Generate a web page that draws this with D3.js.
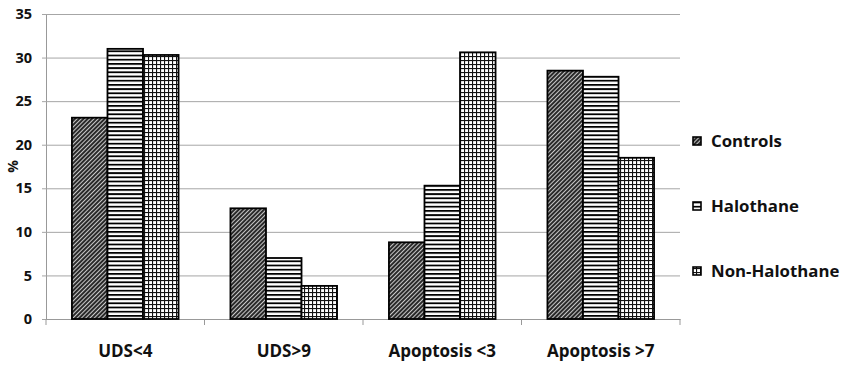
<!DOCTYPE html>
<html><head><meta charset="utf-8">
<script src="https://cdn.jsdelivr.net/npm/d3@7"></script>
<style>body{margin:0;background:#fff}svg{display:block}text{font-family:"Open Sans",Lato,sans-serif;font-weight:bold;fill:#111}</style>
</head><body>
<svg id="c" width="849" height="367"></svg>
<script>
const categories = ["UDS<4","UDS>9","Apoptosis <3","Apoptosis >7"];
const seriesNames = ["Controls","Halothane","Non-Halothane"];
const controls = [23.1, 12.7, 8.8, 28.5];
const halothane = [31.0, 7.0, 15.3, 27.8];
const nonHalothane = [30.3, 3.8, 30.6, 18.5];
const yTicks = [0,5,10,15,20,25,30,35];
const seriesValues = [controls, halothane, nonHalothane];

const svg = d3.select("#c");
const m = {l:46, r:169, t:14, b:48};
const W = 849, H = 367;
const x = d3.scaleBand().domain(categories).range([m.l, W - m.r]).paddingInner(0).paddingOuter(0);
const xi = d3.scaleBand().domain(seriesNames).range([0, x.bandwidth()]).paddingInner(0).paddingOuter(0.73);
const y = d3.scaleLinear().domain([0,35]).range([H - m.b, m.t]);

const defs = svg.append("defs");
const p1 = defs.append("pattern").attr("id","pDiag").attr("patternUnits","userSpaceOnUse")
  .attr("width",3).attr("height",3).attr("patternTransform","rotate(45)");
p1.append("rect").attr("width",3).attr("height",3).attr("fill","#2a2a2a");
p1.append("rect").attr("width",1).attr("height",3).attr("fill","#c8c8c8");
const p2 = defs.append("pattern").attr("id","pHor").attr("patternUnits","userSpaceOnUse")
  .attr("width",4).attr("height",4.2);
p2.append("rect").attr("width",4).attr("height",4.2).attr("fill","#fff");
p2.append("rect").attr("width",4).attr("height",1.8).attr("fill","#000");
const p3 = defs.append("pattern").attr("id","pGrid").attr("patternUnits","userSpaceOnUse")
  .attr("width",4).attr("height",4);
p3.append("rect").attr("width",4).attr("height",4).attr("fill","#fff");
p3.append("rect").attr("width",1.1).attr("height",4).attr("fill","#111");
p3.append("rect").attr("width",4).attr("height",1.1).attr("fill","#111");
const fills = ["url(#pDiag)","url(#pHor)","url(#pGrid)"];

const ya = svg.append("g").attr("transform",`translate(${m.l},0)`)
  .call(d3.axisLeft(y).tickValues(yTicks).tickSize(-(W-m.r-m.l)).tickSizeOuter(0).tickPadding(14));
ya.select(".domain").attr("stroke","#999");
ya.selectAll(".tick line").attr("stroke","#a6a6a6").attr("x1",-4);
ya.selectAll(".tick text").attr("font-size",14.5).attr("fill","#111");

const xa = svg.append("g").attr("transform",`translate(0,${y(0)})`)
  .call(d3.axisBottom(x).tickSize(0).tickPadding(26));
xa.select(".domain").attr("stroke","#999");
xa.selectAll(".tick text").attr("font-size",17).attr("fill","#111");
const bounds = categories.map(c => x(c)).concat([x(categories[categories.length-1]) + x.bandwidth()]);
svg.append("g").selectAll("line").data(bounds).join("line")
  .attr("x1",d=>d).attr("x2",d=>d).attr("y1",y(0)).attr("y2",y(0)+6).attr("stroke","#999");

const g = svg.append("g");
seriesValues.forEach((vals, si) => {
  g.selectAll(null).data(vals).join("rect")
    .attr("x",(d,i)=>x(categories[i]) + xi(seriesNames[si]))
    .attr("y",d=>y(d))
    .attr("width",xi.bandwidth())
    .attr("height",d=>y(0)-y(d))
    .attr("fill",fills[si]).attr("stroke","#000").attr("stroke-width",1.8);
});

svg.append("text").attr("transform",`translate(18,${(y(0)+y(35))/2}) rotate(-90)`)
  .attr("text-anchor","middle").attr("font-size",14).text("%");

const ly = [141, 206, 271];
const lg = svg.append("g");
seriesNames.forEach((n,i)=>{
  lg.append("rect").attr("x",693).attr("y",ly[i]-4).attr("width",8).attr("height",8)
    .attr("fill",fills[i]).attr("stroke","#000").attr("stroke-width",1.6);
  lg.append("text").attr("x",711).attr("y",ly[i]).attr("dy","0.35em").attr("font-size",16.8).text(n);
});
</script>
</body></html>
